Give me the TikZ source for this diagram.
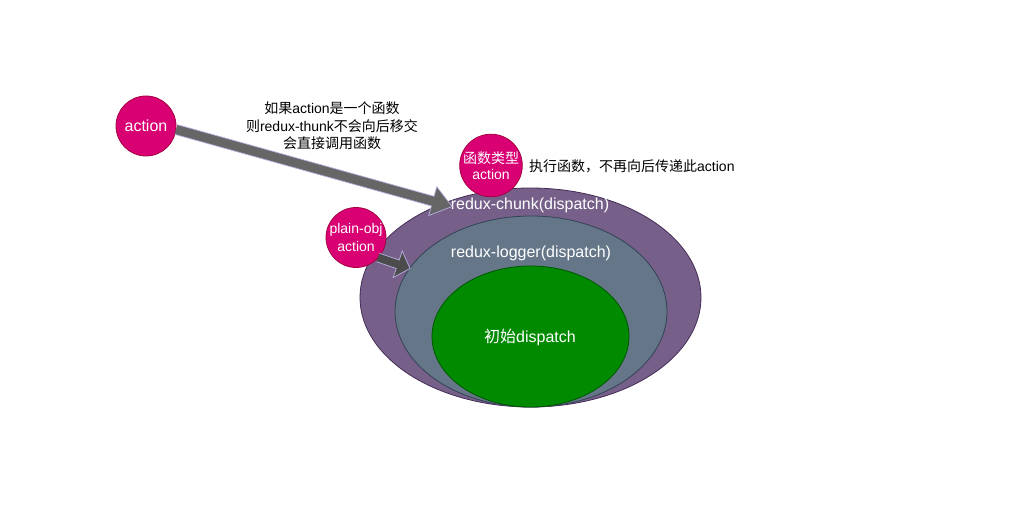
\documentclass[tikz,border=0pt]{standalone}
\usepackage{fontspec}
\setmainfont{Liberation Sans}
\newfontfamily\cjkfont{Noto Sans CJK SC}
\newcommand\zhs[1]{{\cjkfont #1}}
\usetikzlibrary{shapes.geometric,calc}
\definecolor{outerfill}{HTML}{76608A}
\definecolor{outerline}{HTML}{432D57}
\definecolor{midfill}{HTML}{647687}
\definecolor{midline}{HTML}{314354}
\definecolor{innerfill}{HTML}{008A00}
\definecolor{innerline}{HTML}{005700}
\definecolor{pinkfill}{HTML}{D80073}
\definecolor{pinkline}{HTML}{A50040}
\definecolor{arrowline}{HTML}{B8B0E0}
\tikzset{
  bubble/.style={circle,fill=pinkfill,draw=pinkline,line width=0.8pt,minimum size=60pt,inner sep=0pt,text=white,align=center,font=\fontsize{14}{17.5}\selectfont},
  ring/.style={ellipse,line width=0.8pt,inner sep=0pt},
  whitelabel/.style={text=white,font=\fontsize{16}{18}\selectfont,inner sep=0pt},
  blacklabel/.style={text=black,font=\fontsize{14}{17.5}\selectfont,inner sep=0pt,align=center},
  blockarrow/.style={draw=arrowline,line width=0.7pt,line join=miter}
}
\begin{document}
\begin{tikzpicture}[x=1pt,y=-1pt]
\useasboundingbox (0,0) rectangle (1019,513);
% ellipses
\node[ring,fill=outerfill,draw=outerline,minimum width=341pt,minimum height=219pt] (outer) at (530.5,297.5) {};
\node[ring,fill=midfill,draw=midline,minimum width=272pt,minimum height=191pt] (mid) at (531,311.5) {};
\node[ring,fill=innerfill,draw=innerline,minimum width=197pt,minimum height=141pt] (inner) at (530.5,336.5) {};
\node[whitelabel] (chunk) at (530,205) {redux-chunk(dispatch)};
\node[whitelabel] (logger) at (531,253) {redux-logger(dispatch)};
\node[whitelabel] (init) at (530,337.5) {\zhs{初始}dispatch};
% bubbles
\node[bubble,font=\fontsize{16}{18}\selectfont] (action) at (146,126) {action};
\node[bubble] (func) at (491,165.5) {\zhs{函数类型}\\[-1pt]action};
\node[bubble] (plain) at (356,237.5) {plain-obj\\action};
% arrow 1
\coordinate (s1) at (176,129.5);
\coordinate (e1) at (452,206.5);
\coordinate (h1) at ($(e1)!20pt!(s1)$);
\fill[fill=black!60] ($(s1)!5pt!90:(e1)$) -- ($(h1)!5pt!90:(e1)$) -- ($(h1)!15pt!90:(e1)$) -- (e1) -- ($(h1)!15pt!-90:(e1)$) -- ($(h1)!5pt!-90:(e1)$) -- ($(s1)!5pt!-90:(e1)$) -- cycle;
\draw[blockarrow] ($(s1)!5pt!90:(e1)$) -- ($(h1)!5pt!90:(e1)$) -- ($(h1)!15pt!90:(e1)$) -- (e1) -- ($(h1)!15pt!-90:(e1)$) -- ($(h1)!5pt!-90:(e1)$) -- ($(s1)!5pt!-90:(e1)$);
% arrow 2
\coordinate (s2) at (378,257.5);
\coordinate (e2) at (410,268.5);
\coordinate (h2) at ($(e2)!13pt!(s2)$);
\fill[fill=black!70] ($(s2)!4.5pt!90:(e2)$) -- ($(h2)!4.5pt!90:(e2)$) -- ($(h2)!14pt!90:(e2)$) -- (e2) -- ($(h2)!14pt!-90:(e2)$) -- ($(h2)!4.5pt!-90:(e2)$) -- ($(s2)!4.5pt!-90:(e2)$) -- cycle;
\draw[blockarrow] ($(s2)!4.5pt!90:(e2)$) -- ($(h2)!4.5pt!90:(e2)$) -- ($(h2)!14pt!90:(e2)$) -- (e2) -- ($(h2)!14pt!-90:(e2)$) -- ($(h2)!4.5pt!-90:(e2)$) -- ($(s2)!4.5pt!-90:(e2)$);
% labels
\node[blacklabel] (note1) at (332,126) {\zhs{如果}action\zhs{是一个函数}\\\zhs{则}redux-thunk\zhs{不会向后移交}\\\zhs{会直接调用函数}};
\node[blacklabel,anchor=west] (note2) at (529,166) {\zhs{执行函数，不再向后传递此}action};
\end{tikzpicture}
\end{document}
